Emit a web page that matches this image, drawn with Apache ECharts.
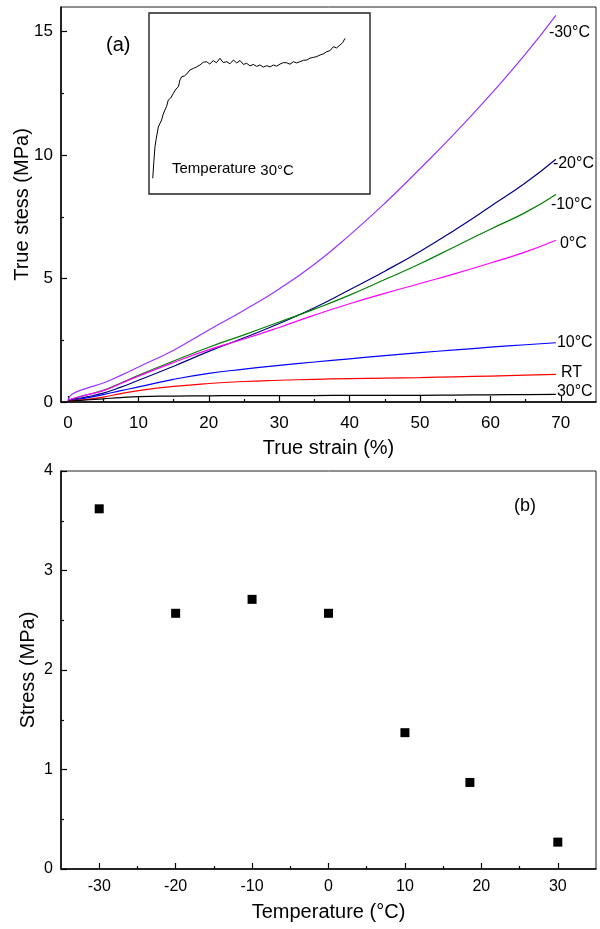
<!DOCTYPE html>
<html>
<head>
<meta charset="utf-8">
<script src="https://cdn.jsdelivr.net/npm/echarts@6/dist/echarts.min.js"></script>
<style>
html,body{margin:0;padding:0;background:#fff;}
#c{width:600px;height:929px;}
</style>
</head>
<body>
<div id="c"></div>
<script>
// ---- Panel (a): true stress vs true strain ----
const strain    = [0, 0.5, 2.5, 5, 7.5, 10, 15, 20, 25, 30, 35, 40, 45, 50, 55, 60, 65, 69.3];
const stressM30 = [0.05, 0.30, 0.54, 0.77, 1.08, 1.42, 2.10, 2.92, 3.72, 4.58, 5.58, 6.76, 8.05, 9.45, 10.90, 12.45, 14.10, 15.66];
const stressM20 = [0.05, 0.10, 0.20, 0.36, 0.60, 0.88, 1.45, 2.05, 2.60, 3.18, 3.82, 4.55, 5.30, 6.10, 6.98, 7.92, 8.88, 9.83];
const stressM10 = [0.05, 0.12, 0.28, 0.47, 0.77, 1.08, 1.66, 2.22, 2.72, 3.24, 3.76, 4.33, 4.96, 5.60, 6.30, 7.00, 7.68, 8.41];
const stress0   = [0.05, 0.12, 0.28, 0.46, 0.75, 1.05, 1.60, 2.12, 2.55, 3.02, 3.52, 3.98, 4.40, 4.80, 5.20, 5.63, 6.08, 6.55];
const stress10  = [0.03, 0.07, 0.16, 0.30, 0.46, 0.61, 0.92, 1.16, 1.33, 1.48, 1.62, 1.75, 1.88, 2.00, 2.11, 2.22, 2.32, 2.40];
const stressRT  = [0.02, 0.05, 0.10, 0.20, 0.34, 0.46, 0.63, 0.75, 0.83, 0.88, 0.92, 0.95, 0.97, 0.99, 1.02, 1.05, 1.09, 1.12];
const stress30  = [0.02, 0.04, 0.08, 0.13, 0.18, 0.22, 0.24, 0.25, 0.26, 0.26, 0.26, 0.27, 0.27, 0.27, 0.28, 0.29, 0.30, 0.31];
const curveNames = ['-30°C', '-20°C', '-10°C', '0°C', '10°C', 'RT', '30°C'];
const strainTicks = [0, 10, 20, 30, 40, 50, 60, 70];
const strainMinor = [5, 15, 25, 35, 45, 55, 65];
const stressTicks = [0, 5, 10, 15];
const stressMinor = [2.5, 7.5, 12.5];

// ---- Inset: 30°C curve (arbitrary units, no axes shown) ----
const insetX = [1.7,2.2,2.7,3.2,4.2,4.8,5.7,6.4,7.2,8.0,8.7,9.8,11.0,12.2,13.3,14.0,14.8,16.0,17.1,18.5,20.1,21.5,23.1,24.6,26.1,27.5,29.1,30.5,32.1,33.6,35.2,36.6,38.2,39.7,41.2,42.7,44.2,45.7,47.2,48.7,50.2,51.7,53.3,54.8,56.3,57.8,59.3,60.8,62.3,63.8,65.3,66.8,68.3,69.9,71.4,72.9,74.4,75.9,77.4,78.9,80.4,81.9,83.4,84.9,86.4,87.6,88.7];
const insetY = [8.7,18.0,26.1,30.0,37.0,36.0,40.9,44.0,46.4,48.5,51.9,53.0,55.6,58.0,59.3,63.0,64.8,65.2,66.3,68.5,69.4,70.2,71.3,72.8,73.1,71.8,73.7,72.5,75.0,72.6,73.1,71.9,74.0,72.4,73.7,71.6,72.2,70.8,71.6,70.5,71.3,70.1,70.9,70.2,71.3,70.6,71.8,72.6,72.5,71.7,73.1,72.4,73.1,73.9,74.0,75.1,75.5,75.9,76.8,77.4,78.6,79.2,81.4,80.7,82.3,83.6,86.0];

// ---- Panel (b): stress vs temperature ----
const temps = [-30, -20, -10, 0, 10, 18.5, 30];
const stressB = [3.62, 2.57, 2.71, 2.57, 1.37, 0.87, 0.27];
const tempTicks = [-30, -20, -10, 0, 10, 20, 30];
const tempMinor = [-25, -15, -5, 5, 15, 25];

const FONT = 'Liberation Sans, Arial, sans-serif';
const curveColors = ['#9933ff', '#000080', '#008000', '#ff00ff', '#0000ff', '#ff0000', '#000000'];
const labelOffsets = [[-7, 17], [-3, 4], [-5, 10], [4, 3], [1, 0], [5, -2], [1, -3]];
const curveData = [stressM30, stressM20, stressM10, stress0, stress10, stressRT, stress30];

function pairs(xs, ys) { return xs.map((x, i) => [x, ys[i]]); }

const axLine = {show: true, onZero: false, lineStyle: {color: '#000', width: 1.5}};
const noLine = {show: false, onZero: false};
const tickStyle = {color: '#000', width: 1.2};
const lbl = {color: '#000', fontSize: 17, fontFamily: FONT};
const nameStyle = {color: '#000', fontSize: 20, fontFamily: FONT};

const grids = [
  {left: 61, right: 4, top: 7, height: 395, show: true, borderColor: '#222', borderWidth: 1},
  {left: 61, right: 4, top: 471, height: 398, show: true, borderColor: '#222', borderWidth: 1},
  {left: 149, top: 13, width: 221, height: 181, show: true, borderColor: '#222', borderWidth: 1.4}
];

const xAxes = [
  {gridIndex: 0, type: 'value', min: -1, max: 75, position: 'bottom', axisLine: axLine,
   axisTick: {inside: true, length: 6, customValues: strainTicks, lineStyle: tickStyle},
   axisLabel: Object.assign({customValues: strainTicks, margin: 13}, lbl),
   splitLine: {show: false},
   name: 'True strain (%)', nameLocation: 'middle', nameGap: 36, nameMoveOverlap: false, nameTextStyle: nameStyle},
  {gridIndex: 0, type: 'value', min: -1, max: 75, position: 'bottom', axisLine: noLine,
   axisTick: {inside: true, length: 3, customValues: strainMinor, lineStyle: tickStyle},
   axisLabel: {show: false}, splitLine: {show: false}},
  {gridIndex: 1, type: 'value', min: -35, max: 35, position: 'bottom', axisLine: axLine,
   axisTick: {inside: true, length: 6, customValues: tempTicks, lineStyle: tickStyle},
   axisLabel: Object.assign({}, lbl, {customValues: tempTicks, margin: 10, fontSize: 16}),
   splitLine: {show: false},
   name: 'Temperature (°C)', nameLocation: 'middle', nameGap: 33, nameMoveOverlap: false, nameTextStyle: nameStyle},
  {gridIndex: 1, type: 'value', min: -35, max: 35, position: 'bottom', axisLine: noLine,
   axisTick: {inside: true, length: 3, customValues: tempMinor, lineStyle: tickStyle},
   axisLabel: {show: false}, splitLine: {show: false}},
  {gridIndex: 2, type: 'value', min: 0, max: 100, show: false}
];

const yAxes = [
  {gridIndex: 0, type: 'value', min: 0, max: 16, position: 'left', axisLine: axLine,
   axisTick: {inside: true, length: 6, customValues: stressTicks, lineStyle: tickStyle},
   axisLabel: Object.assign({customValues: stressTicks, margin: 8}, lbl),
   splitLine: {show: false},
   name: 'True stess (MPa)', nameLocation: 'middle', nameGap: 29, nameMoveOverlap: false, nameTextStyle: nameStyle},
  {gridIndex: 0, type: 'value', min: 0, max: 16, position: 'left', axisLine: noLine,
   axisTick: {inside: true, length: 3, customValues: stressMinor, lineStyle: tickStyle},
   axisLabel: {show: false}, splitLine: {show: false}},
  {gridIndex: 1, type: 'value', min: 0, max: 4, interval: 1, position: 'left', axisLine: axLine,
   axisTick: {inside: true, length: 6, lineStyle: tickStyle},
   minorTick: {show: true, splitNumber: 2, length: 3, lineStyle: tickStyle},
   axisLabel: Object.assign({}, lbl, {margin: 8, fontSize: 16}),
   splitLine: {show: false},
   name: 'Stress (MPa)', nameLocation: 'middle', nameGap: 23, nameMoveOverlap: false, nameTextStyle: nameStyle},
  {gridIndex: 1, type: 'value', min: 0, max: 4, show: false},
  {gridIndex: 2, type: 'value', min: 0, max: 100, show: false}
];

const series = curveData.map((ys, i) => ({
  type: 'line', name: curveNames[i], xAxisIndex: 0, yAxisIndex: 0,
  data: pairs(strain, ys), smooth: 0.5, showSymbol: false, symbol: 'none',
  lineStyle: {color: curveColors[i], width: 1.2},
  endLabel: {show: true, formatter: curveNames[i], color: '#000', fontSize: 16, fontFamily: FONT,
             distance: 0, offset: labelOffsets[i]}
}));

series.push({
  type: 'line', name: 'inset', xAxisIndex: 4, yAxisIndex: 4,
  data: pairs(insetX, insetY), showSymbol: false, symbol: 'none',
  lineStyle: {color: '#000', width: 1}
});

series.push({
  type: 'scatter', name: 'stress', xAxisIndex: 2, yAxisIndex: 2,
  data: pairs(temps, stressB), symbol: 'rect', symbolSize: 9,
  itemStyle: {color: '#000', opacity: 1}
});

const chart = echarts.init(document.getElementById('c'), null, {renderer: 'canvas'});
chart.setOption({
  animation: false,
  backgroundColor: '#fff',
  textStyle: {fontFamily: FONT},
  grid: grids,
  xAxis: xAxes,
  yAxis: yAxes,
  series: series,
  graphic: [
    {type: 'text', left: 106, top: 35, style: {text: '(a)', fontSize: 20, fontFamily: FONT, fill: '#000'}},
    {type: 'text', left: 514, top: 497, style: {text: '(b)', fontSize: 18, fontFamily: FONT, fill: '#000'}},
    {type: 'text', left: 172, top: 161, style: {text: '{a|Temperature }{b|30°C}',
      rich: {a: {fontSize: 15, fontFamily: FONT, color: '#000'},
             b: {fontSize: 15, fontFamily: FONT, color: '#000', padding: [5, 0, 0, 0]}}}}
  ]
});
</script>
</body>
</html>
